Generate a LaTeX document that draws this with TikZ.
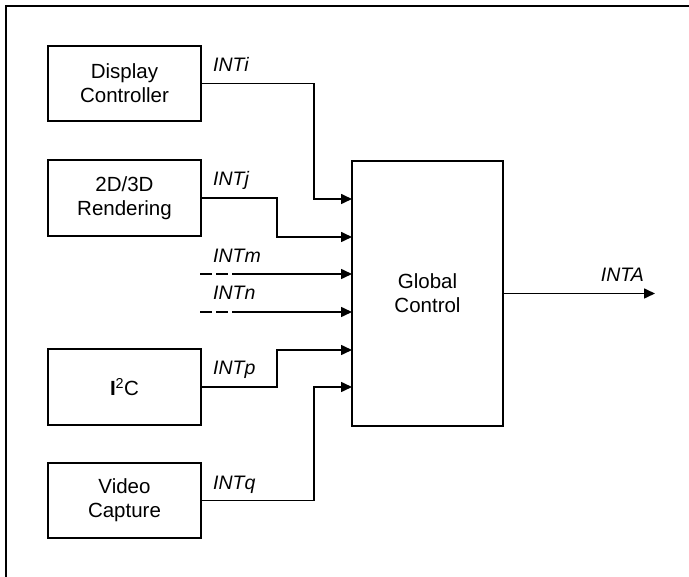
\documentclass[tikz,border=0pt]{standalone}
\usepackage{fontspec}
\setmainfont{Liberation Sans}
\usetikzlibrary{arrows.meta}
\begin{document}
\begin{tikzpicture}[x=1pt,y=-1pt,
  blk/.style={draw, line width=1.6pt, minimum width=153pt, align=center, inner sep=0pt,
    font=\fontsize{20.5}{24}\selectfont},
  lbl/.style={font=\fontsize{19.5}{22}\selectfont\itshape, inner sep=0pt},
  wire/.style={line width=1.6pt},
  arr/.style={wire, -{Triangle[length=11pt,width=10pt]}},
  dsh/.style={wire, dash pattern=on 12pt off 4pt}]
\useasboundingbox (0,0) rectangle (689,577);
% frame (top and left edges only)
\draw[line width=2.4pt] (6,577) -- (6,6) -- (689,6);
% blocks
\node[blk, minimum height=75pt] (dc) at (124.5,83.5) {Display\\Controller};
\node[blk, minimum height=76pt] (rd) at (124.5,198) {2D/3D\\Rendering};
\node[blk, minimum height=76pt] (ic) at (124.5,387) {\textbf{I}\textsuperscript{2}C};
\node[blk, minimum height=75pt] (vc) at (124.5,500.5) {Video\\Capture};
\node[blk, minimum width=151pt, minimum height=265pt] (g) at (427.5,293.5) {Global\\Control};
% input points on the global block
\coordinate (in1) at (352,199);
\coordinate (in2) at (352,237);
\coordinate (in3) at (352,274);
\coordinate (in4) at (352,312);
\coordinate (in5) at (352,350);
\coordinate (in6) at (352,387);
\coordinate (m0) at (200,274);
\coordinate (m1) at (235,274);
\coordinate (n0) at (200,312);
\coordinate (n1) at (235,312);
\coordinate (out) at (655,293.5);
% connectors
\draw[arr] (dc.east) -| ([xshift=-38pt]in1) -- (in1);
\draw[arr] (rd.east) -| ([xshift=-75pt]in2) -- (in2);
\draw[dsh] (m0) -- (m1);
\draw[arr] (m1) -- (in3);
\draw[dsh] (n0) -- (n1);
\draw[arr] (n1) -- (in4);
\draw[arr] (ic.east) -| ([xshift=-75pt]in5) -- (in5);
\draw[arr] (vc.east) -| ([xshift=-38pt]in6) -- (in6);
\draw[arr] (g.east) -- (out);
% labels
\node[lbl, anchor=base west] (li) at (213,72) {INTi};
\node[lbl, anchor=base west] (lj) at (213,186) {INTj};
\node[lbl, anchor=base west] (lm) at (213,263) {INTm};
\node[lbl, anchor=base west] (ln) at (213,300) {INTn};
\node[lbl, anchor=base west] (lp) at (213,375) {INTp};
\node[lbl, anchor=base west] (lq) at (213,490) {INTq};
\node[lbl, anchor=base east] (la) at (644,282) {INTA};
\end{tikzpicture}
\end{document}
